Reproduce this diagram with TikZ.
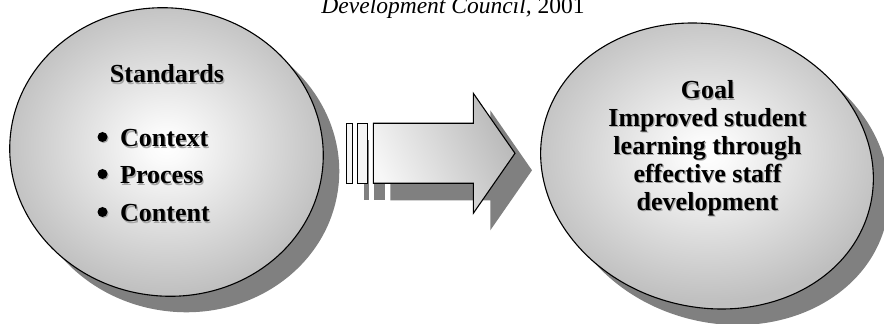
\documentclass[tikz,border=0pt]{standalone}
\usepackage{fontspec}
\setmainfont{Liberation Serif}
\usetikzlibrary{shadings}
\pgfdeclareradialshading{ellshade}{\pgfpoint{0bp}{0bp}}{color(0bp)=(white); color(3bp)=(white!98!black); color(25bp)=(black!25); color(50bp)=(black!25)}
\newcommand\shtxt[1]{\leavevmode\rlap{\kern1.1pt\raisebox{-1.1pt}{\textcolor{black!35}{#1}}}#1}
\tikzset{
  outl/.style={draw=black, line width=1.1pt, line join=miter},
  shadowfill/.style={fill=black!50},
  ellfill/.style={outl, shading=ellshade},
  arrowfill/.style={outl, left color=white!97!black, right color=black!28, shading angle=115},
  stripefill/.style={outl, fill=white!96!black},
  bigtext/.style={font=\fontsize{26}{28}\selectfont\bfseries, inner sep=0pt},
  titletext/.style={font=\fontsize{23.5}{26}\selectfont, inner sep=0pt},
  bul/.style={circle, fill=black, inner sep=0pt, minimum size=10pt},
  bulsh/.style={circle, fill=black!35, inner sep=0pt, minimum size=10pt}
}
\begin{document}
\begin{tikzpicture}[x=1pt,y=1pt]
\useasboundingbox (0,0) rectangle (884,324);
\clip (0,0) rectangle (884,324);
% shadows
\fill[shadowfill, rotate around={-8:(182.5,156)}] (182.5,156) ellipse [x radius=157, y radius=144];
\fill[shadowfill, rotate around={-15:(723,142)}] (723,142) ellipse [x radius=168, y radius=141];
\begin{scope}[shift={(17,-17)}]
  \fill[shadowfill] (346.7,140.7) rectangle (352.3,200.7);
  \fill[shadowfill] (357.3,140.7) rectangle (367.7,200.7);
  \fill[shadowfill] (373.3,200.7) -- (473.3,200.7) -- (473.3,230.7) -- (515,170.7) -- (473.3,110.7) -- (473.3,140.7) -- (373.3,140.7) -- cycle;
\end{scope}
% ellipses
\shade[ellfill, rotate around={-8:(166.5,172)}] (166.5,172) ellipse [x radius=157, y radius=144];
\shade[ellfill, rotate around={-15:(707,158)}] (707,158) ellipse [x radius=168, y radius=141];
% arrow
\path[stripefill] (346.7,140.7) rectangle (352.3,200.7);
\path[stripefill] (357.3,140.7) rectangle (367.7,200.7);
\shade[arrowfill] (373.3,200.7) -- (473.3,200.7) -- (473.3,230.7) -- (515,170.7) -- (473.3,110.7) -- (473.3,140.7) -- (373.3,140.7) -- cycle;
% title
\node[titletext, anchor=base] (title) at (453,310.5) {\textit{Development Council,} 2001};
% left text
\node[bigtext, anchor=base] (std) at (167,241) {\shtxt{Standards}};
\node[bulsh] (b1s) at (103.6,185.9) {};
\node[bul] (b1) at (102.5,187) {};
\node[bigtext, anchor=base west] (ctx) at (120,177) {\shtxt{Context}};
\node[bulsh] (b2s) at (103.6,148.9) {};
\node[bul] (b2) at (102.5,150) {};
\node[bigtext, anchor=base west] (prc) at (120,140) {\shtxt{Process}};
\node[bulsh] (b3s) at (103.6,110.9) {};
\node[bul] (b3) at (102.5,112) {};
\node[bigtext, anchor=base west] (cnt) at (120,102) {\shtxt{Content}};
% right text
\node[bigtext, anchor=base] (g1) at (707.5,225) {\shtxt{Goal}};
\node[bigtext, anchor=base] (g2) at (707.5,197.2) {\shtxt{Improved student}};
\node[bigtext, anchor=base] (g3) at (707.5,169.4) {\shtxt{learning through}};
\node[bigtext, anchor=base] (g4) at (707.5,141.6) {\shtxt{effective staff}};
\node[bigtext, anchor=base] (g5) at (707.5,113.8) {\shtxt{development}};
\end{tikzpicture}
\end{document}
